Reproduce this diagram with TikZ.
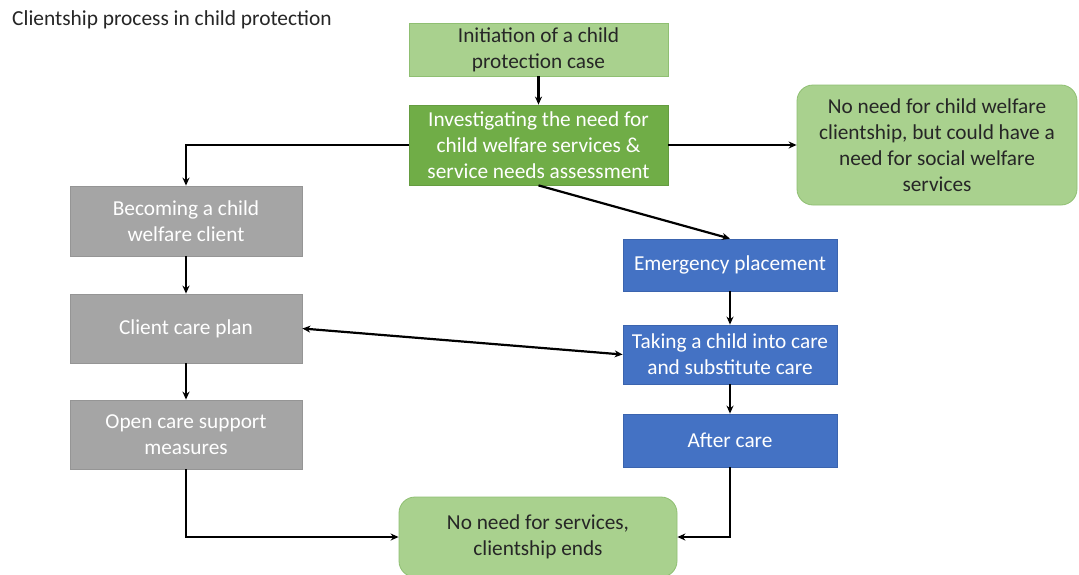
\documentclass[tikz,border=0pt]{standalone}
\usepackage{fontspec}
\setmainfont{Carlito}
\usetikzlibrary{arrows.meta}
\definecolor{leaf}{HTML}{A9D18E}
\definecolor{leafedge}{HTML}{8FBF72}
\definecolor{moss}{HTML}{70AD47}
\definecolor{stone}{HTML}{A5A5A5}
\definecolor{stoneedge}{HTML}{959595}
\definecolor{sea}{HTML}{4472C4}
\definecolor{seaedge}{HTML}{3B64AE}
\tikzset{
  box/.style={rectangle, inner sep=0pt, align=center,
    font=\fontsize{21.3}{26}\selectfont, line width=0.8pt},
  lightbox/.style={box, fill=leaf, draw=leafedge, text=black!85},
  softbox/.style={lightbox, rounded corners=16pt},
  mossbox/.style={box, fill=moss, draw=moss!90!black, text=white},
  greybox/.style={box, fill=stone, draw=stoneedge, text=white},
  bluebox/.style={box, fill=sea, draw=seaedge, text=white},
  arr/.style={line width=2.2pt, -{Stealth[length=8pt,width=7pt]}},
  dbl/.style={line width=2.2pt, {Stealth[length=8pt,width=7pt]}-{Stealth[length=8pt,width=7pt]}},
}
\begin{document}
\begin{tikzpicture}[x=1pt,y=-1pt]
\useasboundingbox (0,0) rectangle (1079,574);
\fill[white] (0,0) rectangle (1079,574);

\node[anchor=west, font=\fontsize{21.4}{26}\selectfont, text=black!85, inner sep=0pt] (title) at (12,20) {Clientship process in child protection};

% top of the process
\node[lightbox, minimum width=259pt, minimum height=53pt] (init) at (538.5,49.5) {Initiation of a child\\protection case};
\node[mossbox, minimum width=259pt, minimum height=80pt] (inv) at (538.5,145) {Investigating the need for\\child welfare services \&\\service needs assessment};
\node[softbox, minimum width=280pt, minimum height=120pt] (nochild) at (937,145) {No need for child welfare\\clientship, but could have a\\need for social welfare\\services};

% open care branch
\node[greybox, minimum width=232pt, minimum height=70pt] (become) at (186,221) {Becoming a child\\welfare client};
\node[greybox, minimum width=232pt, minimum height=69pt] (plan) at (186,328.5) {Client care plan};
\node[greybox, minimum width=232pt, minimum height=69pt] (open) at (186,434.5) {Open care support\\measures};

% substitute care branch
\node[bluebox, minimum width=214pt, minimum height=52pt] (emerg) at (730,265) {Emergency placement};
\node[bluebox, minimum width=214pt, minimum height=59pt] (take) at (730,354.5) {Taking a child into care\\and substitute care};
\node[bluebox, minimum width=214pt, minimum height=53pt] (after) at (730,440.5) {After care};

% end of clientship
\node[softbox, minimum width=278pt, minimum height=80pt] (final) at (538,537) {No need for services,\\clientship ends};

% connectors
\draw[arr] (init) -- (inv);
\draw[arr] (inv.west) -| (become.north);
\draw[arr] (inv.east) -- (nochild.west);
\draw[arr] (inv.south) -- (emerg.north);
\draw[arr] (become) -- (plan);
\draw[arr] (plan) -- (open);
\draw[dbl] (plan.east) -- (take.west);
\draw[arr] (emerg) -- (take);
\draw[arr] (take) -- (after);
\draw[arr] (open.south) |- (final.west);
\draw[arr] (after.south) |- (final.east);
\end{tikzpicture}
\end{document}
